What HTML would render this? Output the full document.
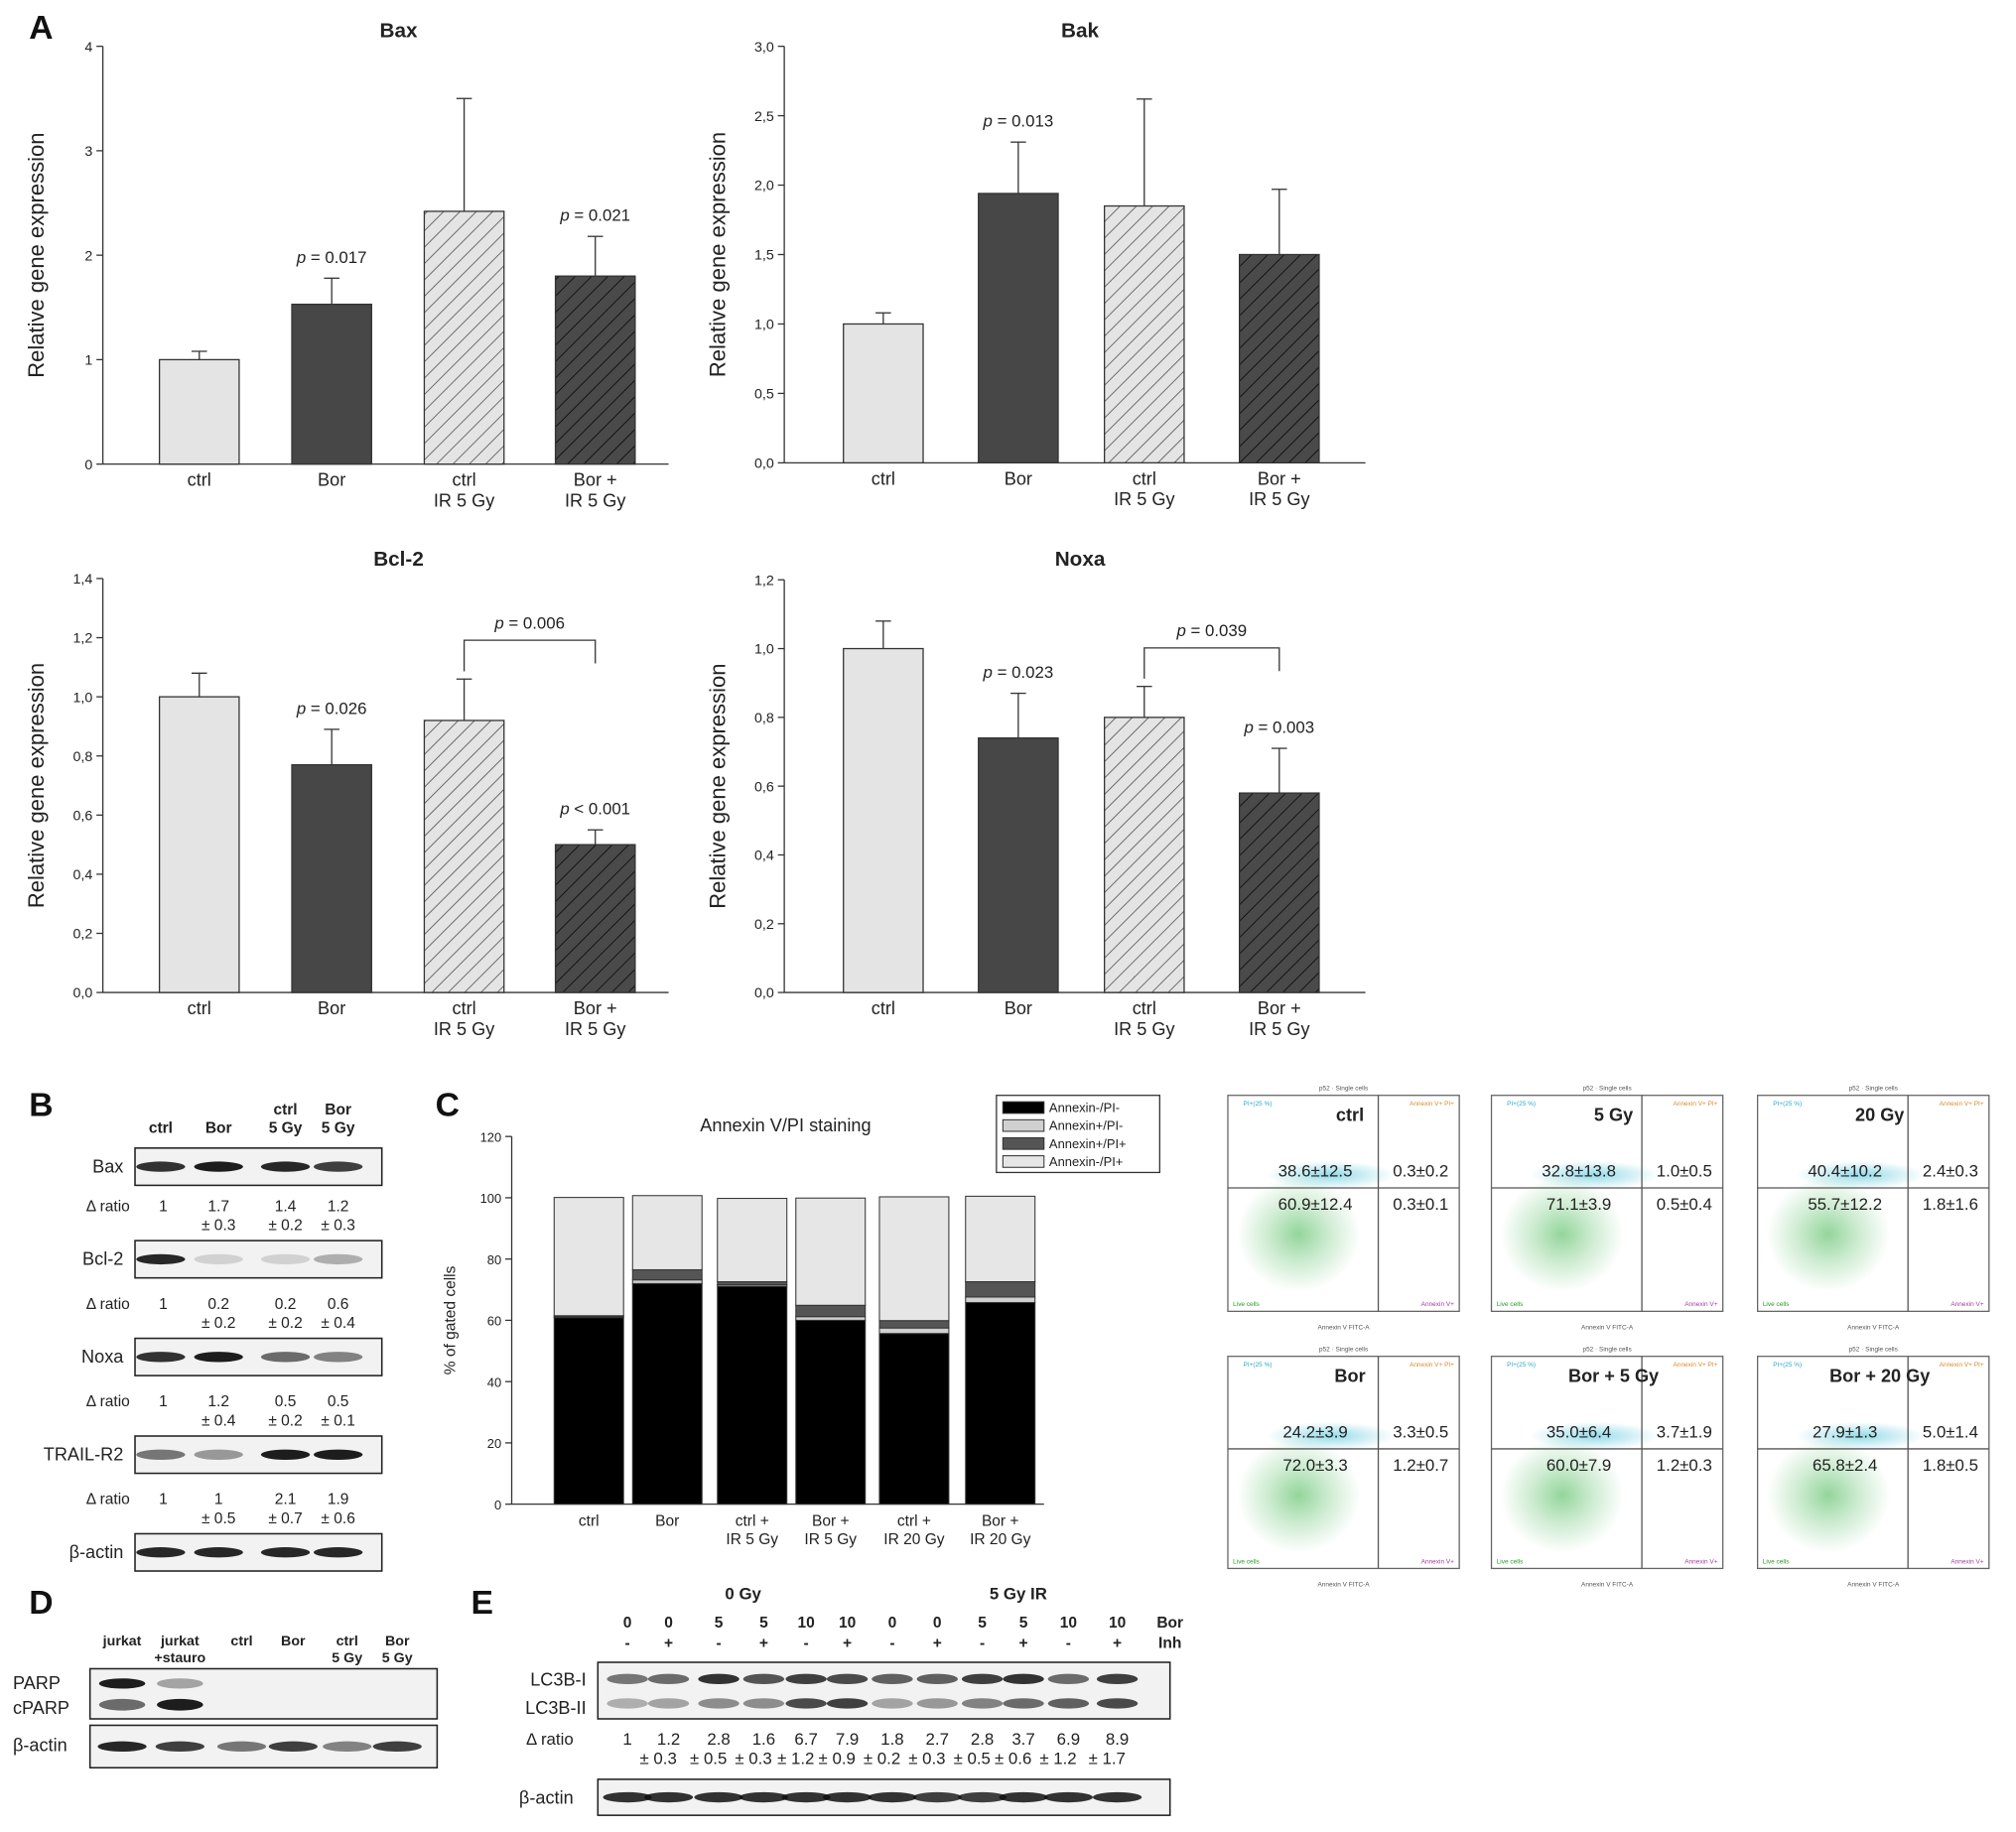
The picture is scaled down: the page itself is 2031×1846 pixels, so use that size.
<!DOCTYPE html>
<html><head><meta charset="utf-8"><style>
html,body{margin:0;padding:0;background:#fff}
svg{display:block;font-family:"Liberation Sans",sans-serif}
</style></head><body>
<svg id="fig" width="2031" height="1846" viewBox="0 0 1568 1425" preserveAspectRatio="none" xmlns="http://www.w3.org/2000/svg">
<defs>
<pattern id="hatchL" patternUnits="userSpaceOnUse" width="9" height="9" patternTransform="rotate(45)"><rect width="9" height="9" fill="#e4e4e4"/><line x1="0" y1="0" x2="0" y2="9" stroke="#555" stroke-width="1.3"/></pattern>
<pattern id="hatchD" patternUnits="userSpaceOnUse" width="9" height="9" patternTransform="rotate(45)"><rect width="9" height="9" fill="#4a4a4a"/><line x1="0" y1="0" x2="0" y2="9" stroke="#111" stroke-width="1.5"/></pattern>
<radialGradient id="gcloud"><stop offset="0" stop-color="#3cb34a" stop-opacity="0.55"/><stop offset="0.5" stop-color="#3cb34a" stop-opacity="0.25"/><stop offset="1" stop-color="#3cb34a" stop-opacity="0"/></radialGradient>
<radialGradient id="ccloud"><stop offset="0" stop-color="#4cc3d9" stop-opacity="0.6"/><stop offset="1" stop-color="#4cc3d9" stop-opacity="0"/></radialGradient>
</defs>
<g id="root"></g>
</svg>
<script>
// ---- Panel A data ----
const catsA = ["ctrl","Bor","ctrl|IR 5 Gy","Bor +|IR 5 Gy"];
const baxVals = [1.0,1.53,2.42,1.8];
const baxErr = [1.08,1.78,3.5,2.18];
const bakVals = [1.0,1.94,1.85,1.5];
const bakErr = [1.08,2.31,2.62,1.97];
const bcl2Vals = [1.0,0.77,0.92,0.5];
const bcl2Err = [1.08,0.89,1.06,0.55];
const noxaVals = [1.0,0.74,0.8,0.58];
const noxaErr = [1.08,0.87,0.89,0.71];
const baxTicks = ["0","1","2","3","4"];
const bakTicks = ["0,0","0,5","1,0","1,5","2,0","2,5","3,0"];
const bcl2Ticks = ["0,0","0,2","0,4","0,6","0,8","1,0","1,2","1,4"];
const noxaTicks = ["0,0","0,2","0,4","0,6","0,8","1,0","1,2"];
// ---- Panel C data ----
const catsC = ["ctrl","Bor","ctrl +|IR 5 Gy","Bor +|IR 5 Gy","ctrl +|IR 20 Gy","Bor +|IR 20 Gy"];
const annNegPINeg = [60.9,72.0,71.1,60.0,55.7,65.8];
const annPosPINeg = [0.3,1.2,0.5,1.2,1.8,1.8];
const annPosPIPos = [0.3,3.3,1.0,3.7,2.4,5.0];
const annNegPIPos = [38.6,24.2,27.2,35.0,40.4,27.9];
const ticksC = ["0","20","40","60","80","100","120"];
// ---- Flow data ----
const flowTitles = ["ctrl","5 Gy","20 Gy","Bor","Bor + 5 Gy","Bor + 20 Gy"];
const flowUL = ["38.6±12.5","32.8±13.8","40.4±10.2","24.2±3.9","35.0±6.4","27.9±1.3"];
const flowUR = ["0.3±0.2","1.0±0.5","2.4±0.3","3.3±0.5","3.7±1.9","5.0±1.4"];
const flowLL = ["60.9±12.4","71.1±3.9","55.7±12.2","72.0±3.3","60.0±7.9","65.8±2.4"];
const flowLR = ["0.3±0.1","0.5±0.4","1.8±1.6","1.2±0.7","1.2±0.3","1.8±0.5"];

const NS="http://www.w3.org/2000/svg";
const root=document.getElementById('root');
function el(tag,attrs,parent,text){const e=document.createElementNS(NS,tag);for(const k in attrs)e.setAttribute(k,attrs[k]);if(text!==undefined)e.textContent=text;(parent||root).appendChild(e);return e;}
function txt(x,y,s,size,parent,opt){opt=opt||{};return el('text',{x:x,y:y,'font-size':size,'text-anchor':opt.anchor||'middle','font-weight':opt.bold?'bold':'normal','font-style':opt.italic?'italic':'normal',fill:opt.fill||'#222'},parent,s);}

const fills=["#e4e4e4","#474747","url(#hatchL)","url(#hatchD)"];
function barChart(name,ax,top,bot,right,centers,vals,errs,ticks,max,title,titleX,pvals,bracket){
  const g=el('g',{},root);
  
  
  const y=v=>bot-(v/max)*(bot-top);
  const t=txt(titleX,29+(top>300?411:0),title,16,g,{bold:true});
  
  el('line',{x1:ax,y1:top,x2:ax,y2:bot,stroke:'#333','stroke-width':1},g);
  el('line',{x1:ax,y1:bot,x2:right,y2:bot,stroke:'#333','stroke-width':1},g);
  ticks.forEach((tk,i)=>{const v=i*max/(ticks.length-1);const yy=y(v);
    el('line',{x1:ax-5,y1:yy,x2:ax,y2:yy,stroke:'#333'},g);
    const tl=txt(ax-8,yy+4,tk,11,g,{anchor:'end'});
    });
  const yl=txt(0,0,"Relative gene expression",17,g);
  yl.setAttribute('transform',`translate(${ax-46},${(top+bot)/2}) rotate(-90)`);
  
  vals.forEach((v,i)=>{const cx=centers[i];
    const ey=y(errs[i]);
    el('line',{x1:cx,y1:ey,x2:cx,y2:y(v),stroke:'#333'},g);
    el('line',{x1:cx-6,y1:ey,x2:cx+6,y2:ey,stroke:'#333'},g);
    const r=el('rect',{x:cx-31,y:y(v),width:62,height:bot-y(v),fill:fills[i],stroke:'#333','stroke-width':1},g);
    
    const lines=catsA[i].split('|');
    lines.forEach((l,j)=>{const c=txt(cx,bot+17+j*16,l,14,g);});
    if(pvals[i]){const pt=el('text',{x:cx,y:ey-12,'font-size':13,'text-anchor':'middle',fill:'#222'},g);
      el('tspan',{'font-style':'italic'},pt,'p');el('tspan',{},pt,' '+pvals[i]);
      }
  });
  if(bracket){const [a,b,p,by]=bracket;const x1=centers[a],x2=centers[b];
    el('path',{d:`M${x1} ${y(errs[a])-6} V${by} H${x2} V${by+18}`,fill:'none',stroke:'#333'},g);
    const pt=el('text',{x:(x1+x2)/2,y:by-9,'font-size':13,'text-anchor':'middle',fill:'#222'},g);
    el('tspan',{'font-style':'italic'},pt,'p');el('tspan',{},pt,' = '+p);
    }
}
const cL=[155,258,361,463], cR=[687,792,890,995];
barChart('bax',80,36,361,520,cL,baxVals,baxErr,baxTicks,4,"Bax",310,[null,"= 0.017",null,"= 0.021"]);
barChart('bak',610,36,360,1062,cR,bakVals,bakErr,bakTicks,3,"Bak",840,[null,"= 0.013",null,null]);
barChart('bcl2',80,450,772,520,cL,bcl2Vals,bcl2Err,bcl2Ticks,1.4,"Bcl-2",310,[null,"= 0.026",null,"< 0.001"],[2,3,"0.006",498]);
barChart('noxa',610,451,772,1062,cR,noxaVals,noxaErr,noxaTicks,1.2,"Noxa",840,[null,"= 0.023",null,"= 0.003"],[2,3,"0.039",504]);

// panel letters
[["A",32,30],["B",32,868],["C",348,868],["D",32,1255],["E",375,1255]].forEach(([l,x,y])=>{const t=txt(x,y,l,26,root,{bold:true,fill:'#111'});});

// ---- Panel C stacked ----
(function(){
  const g=el('g',{},root);
  
  const ax=398,top=884,bot=1170,max=120,right=812;
  const y=v=>bot-(v/max)*(bot-top);
  txt(611,880,"Annexin V/PI staining",14,g);
  el('line',{x1:ax,y1:top,x2:ax,y2:bot,stroke:'#333'},g);
  el('line',{x1:ax,y1:bot,x2:right,y2:bot,stroke:'#333'},g);
  ticksC.forEach((tk,i)=>{const yy=y(i*20);el('line',{x1:ax-5,y1:yy,x2:ax,y2:yy,stroke:'#333'},g);txt(ax-8,yy+4,tk,10,g,{anchor:'end'});});
  const yl=txt(0,0,"% of gated cells",12,g);yl.setAttribute('transform',`translate(${ax-44},${(top+bot)/2}) rotate(-90)`);
  
  const cx=[458,519,585,646,711,778];
  const series=[annNegPINeg,annPosPINeg,annPosPIPos,annNegPIPos];
  const cols=["#000","#d0d0d0","#555","#e6e6e6"];
  catsC.forEach((c,i)=>{let acc=0;
    series.forEach((s,k)=>{const v=s[i];
      const r=el('rect',{x:cx[i]-27,y:y(acc+v),width:54,height:y(acc)-y(acc+v),fill:cols[k],stroke:'#333','stroke-width':0.8},g);
      acc+=v;});
    c.split('|').forEach((l,j)=>txt(cx[i],bot+17+j*14,l,12,g));
  });
  const lg=el('g',{},g);
  el('rect',{x:775,y:852,width:127,height:60,fill:'#fff',stroke:'#333'},lg);
  ["Annexin-/PI-","Annexin+/PI-","Annexin+/PI+","Annexin-/PI+"].forEach((l,k)=>{
    el('rect',{x:780,y:857+k*14,width:32,height:9,fill:cols[k],stroke:'#333','stroke-width':0.8},lg);
    const t=txt(816,865+k*14,l,10,lg,{anchor:'start'});});
})();

// ---- Flow panels ----
(function(){
  const xs=[955,1160,1367], ys=[852,1055];
  flowTitles.forEach((tl,i)=>{
    const x0=xs[i%3], y0=ys[Math.floor(i/3)], w=180, h=i<3?168:165;
    const g=el('g',{},root);
    el('rect',{x:x0,y:y0,width:w,height:h,fill:'#fff',stroke:'#666','stroke-width':1},g);
    const vx=x0+117, hy=y0+72;
    el('ellipse',{cx:x0+55,cy:y0+108,rx:48,ry:45,fill:'url(#gcloud)'},g);
    el('ellipse',{cx:x0+80,cy:hy-10,rx:50,ry:11,fill:'url(#ccloud)'},g);
    el('line',{x1:vx,y1:y0,x2:vx,y2:y0+h,stroke:'#555'},g);
    el('line',{x1:x0,y1:hy,x2:x0+w,y2:hy,stroke:'#555'},g);
    txt(x0+95,y0+20,tl,14,g,{bold:true});
    txt(x0+68,hy-9,flowUL[i],13,g);txt(x0+150,hy-9,flowUR[i],13,g);
    txt(x0+68,hy+17,flowLL[i],13,g);txt(x0+150,hy+17,flowLR[i],13,g);
    txt(x0+90,y0-4,"p52 · Single cells",5,g,{fill:'#555'});
    txt(x0+90,y0+h+14,"Annexin V FITC-A",5,g,{fill:'#555'});
    txt(x0+12,y0+8,"PI+(25 %)",5,g,{anchor:'start',fill:'#29a9c9'});
    txt(x0+w-4,y0+8,"Annexin V+ PI+",5,g,{anchor:'end',fill:'#d88a2a'});
    txt(x0+4,y0+h-4,"Live cells",5,g,{anchor:'start',fill:'#2a9a2a'});
    txt(x0+w-4,y0+h-4,"Annexin V+",5,g,{anchor:'end',fill:'#a03aa0'});
  });
})();

// ---- Blot helpers ----
function blot(name,x,y,w,h,lanes,intens,bh){
  const g=el('g',{},root);
  el('rect',{x:x,y:y,width:w,height:h,fill:'#f2f2f2',stroke:'#222','stroke-width':1.2},g);
  lanes.forEach((c,i)=>{const a=intens[i];if(a<=0)return;
    el('ellipse',{cx:c,cy:y+h/2+(bh&&bh.dy?bh.dy:0),rx:(bh&&bh.rx)||19,ry:(bh&&bh.ry)||4,fill:'#111','fill-opacity':a},g);});
  return g;
}
// Panel B
const lanesB=[125,170,222,263];
[["ctrl"],["Bor"],["ctrl","5 Gy"],["Bor","5 Gy"]].forEach((l,i)=>l.forEach((s,j)=>txt(lanesB[i],881-(l.length-1)*14+j*14,s,12,root,{bold:true})));
const bRows=[["Bax",893,[0.85,0.95,0.9,0.8]],["Bcl-2",965,[0.9,0.15,0.15,0.3]],["Noxa",1041,[0.85,0.95,0.6,0.5]],["TRAIL-R2",1117,[0.55,0.4,0.95,0.95]],["β-actin",1193,[0.9,0.9,0.9,0.9]]];
bRows.forEach(([n,y,a])=>{blot('blot-'+n.toLowerCase(),105,y,192,29,lanesB,a);const t=txt(96,y+19,n,14,root,{anchor:'end'});});
const ratiosB=[["1","1.7|± 0.3","1.4|± 0.2","1.2|± 0.3"],["1","0.2|± 0.2","0.2|± 0.2","0.6|± 0.4"],["1","1.2|± 0.4","0.5|± 0.2","0.5|± 0.1"],["1","1|± 0.5","2.1|± 0.7","1.9|± 0.6"]];
ratiosB.forEach((r,k)=>{const y=942+k*76;txt(101,y,"Δ ratio",12,root,{anchor:'end'});
  r.forEach((s,i)=>s.split('|').forEach((p,j)=>txt(lanesB[i]+(i==0?2:0),y+j*15,p,12)));});

// Panel D
const lanesD=[95,140,188,228,270,309];
[["jurkat"],["jurkat","+stauro"],["ctrl"],["Bor"],["ctrl","5 Gy"],["Bor","5 Gy"]].forEach((l,i)=>l.forEach((s,j)=>txt(lanesD[i],1280+j*13,s,11,root,{bold:true})));
const pd=blot('blot-parp',70,1298,270,39,lanesD,[0.95,0.35,0,0,0,0],{dy:-8,rx:18,ry:4});
[[95,0.6],[140,0.95]].forEach(([c,a])=>el('ellipse',{cx:c,cy:1326,rx:18,ry:4.5,fill:'#111','fill-opacity':a},pd));
blot('blot-actin-d',70,1342,270,33,lanesD,[0.9,0.8,0.55,0.8,0.5,0.8]);
txt(10,1314,"PARP",14,root,{anchor:'start'});txt(10,1333,"cPARP",14,root,{anchor:'start'});txt(10,1362,"β-actin",14,root,{anchor:'start'});

// Panel E
const lanesE=[488,520,559,594,627,659,694,729,764,796,831,869];
const borE=["0","0","5","5","10","10","0","0","5","5","10","10"];
const inhE=["-","+","-","+","-","+","-","+","-","+","-","+"];
txt(578,1244,"0 Gy",13,root,{bold:true});txt(792,1244,"5 Gy IR",13,root,{bold:true});
lanesE.forEach((c,i)=>{txt(c,1266,borE[i],12,root,{bold:true});txt(c,1282,inhE[i],12,root,{bold:true});});
txt(910,1266,"Bor",12,root,{bold:true});txt(910,1282,"Inh",12,root,{bold:true});
const le=blot('blot-lc3b',465,1293,445,44,lanesE,[0.55,0.6,0.85,0.7,0.8,0.75,0.65,0.65,0.8,0.85,0.6,0.8],{dy:-9,rx:16,ry:4});
[0.3,0.35,0.45,0.45,0.75,0.8,0.35,0.4,0.5,0.6,0.65,0.75].forEach((a,i)=>el('ellipse',{cx:lanesE[i],cy:1325,rx:16,ry:4,fill:'#111','fill-opacity':a},le));
txt(456,1311,"LC3B-I",14,root,{anchor:'end'});txt(456,1333,"LC3B-II",14,root,{anchor:'end'});
const rE=["1","1.2","2.8","1.6","6.7","7.9","1.8","2.7","2.8","3.7","6.9","8.9"];
const sE=["","± 0.3","± 0.5","± 0.3","± 1.2","± 0.9","± 0.2","± 0.3","± 0.5","± 0.6","± 1.2","± 1.7"];
txt(446,1357,"Δ ratio",13,root,{anchor:'end'});
lanesE.forEach((c,i)=>{txt(c,1357,rE[i],13);if(sE[i])txt(c-8,1372,sE[i],13);});
blot('blot-actin-e',465,1384,445,28,lanesE,[0.85,0.85,0.85,0.85,0.85,0.85,0.85,0.8,0.8,0.85,0.85,0.85]);
txt(446,1403,"β-actin",14,root,{anchor:'end'});
</script>
</body></html>
